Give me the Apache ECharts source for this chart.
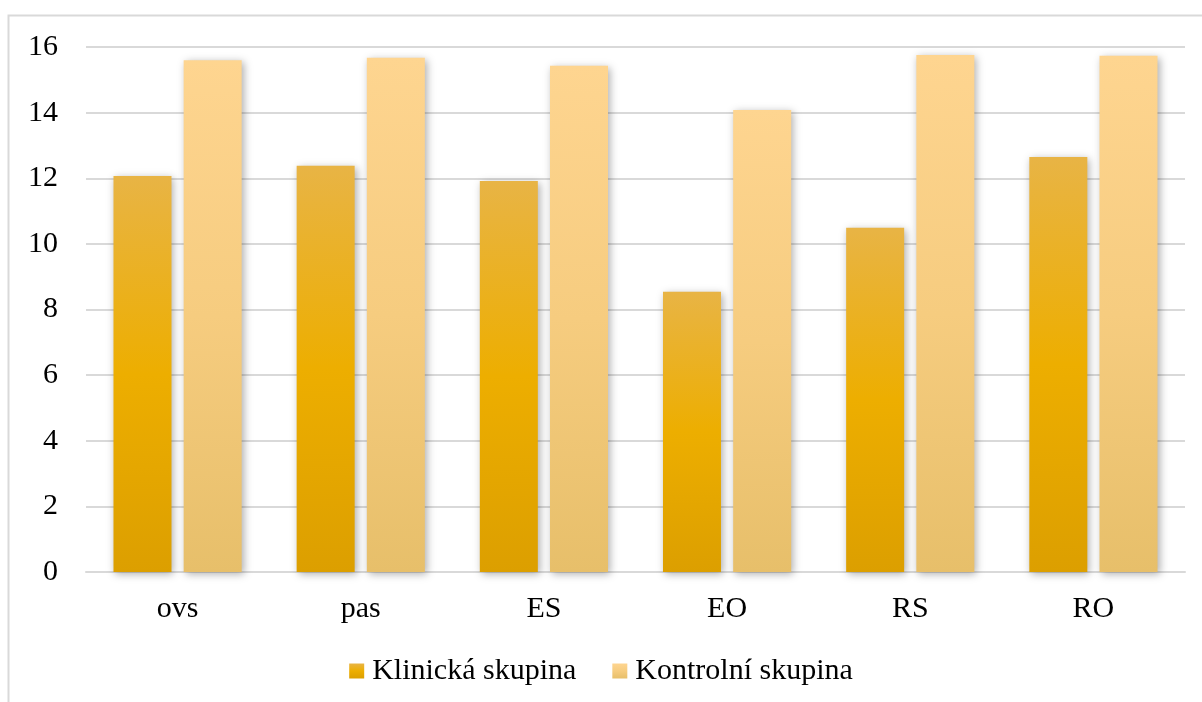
<!DOCTYPE html>
<html>
<head>
<meta charset="utf-8">
<script src="https://cdn.jsdelivr.net/npm/echarts@6/dist/echarts.min.js"></script>
<style>
html,body{margin:0;padding:0;background:#fff;}
#chart{width:1202px;height:702px;}
</style>
</head>
<body>
<div id="chart"></div>
<script>
const categories = ['ovs', 'pas', 'ES', 'EO', 'RS', 'RO'];
const seriesNames = ['Klinická skupina', 'Kontrolní skupina'];
const klinicka = [12.07, 12.38, 11.92, 8.54, 10.49, 12.65];
const kontrolni = [15.6, 15.67, 15.43, 14.08, 15.76, 15.73];
const yTicks = [0, 2, 4, 6, 8, 10, 12, 14, 16];

const font = '"Liberation Serif", "Times New Roman", serif';
const chart = echarts.init(document.getElementById('chart'));

function grad(stops) {
  return new echarts.graphic.LinearGradient(0, 0, 0, 1, stops);
}
const shadow = {shadowBlur: 8, shadowColor: 'rgba(0,0,0,0.32)', shadowOffsetX: 2, shadowOffsetY: 2};

chart.setOption({
  animation: false,
  graphic: [{
    type: 'rect', silent: true,
    shape: {x: 8.5, y: 15.5, width: 1300, height: 800},
    style: {fill: 'none', stroke: '#d9d9d9', lineWidth: 2}
  }],
  grid: {left: 86, right: 17, top: 47, bottom: 130, containLabel: false},
  legend: {
    data: seriesNames,
    left: 'center', top: 651,
    itemWidth: 15, itemHeight: 15, itemGap: 36,
    icon: 'rect',
    textStyle: {fontFamily: font, fontSize: 30, color: '#000', padding: [0, 0, 0, 3]}
  },
  xAxis: {
    type: 'category',
    data: categories,
    axisLine: {lineStyle: {color: '#d9d9d9', width: 2}},
    axisTick: {show: false},
    axisLabel: {fontFamily: font, fontSize: 30, color: '#000', margin: 22}
  },
  yAxis: {
    type: 'value',
    min: yTicks[0], max: yTicks[yTicks.length - 1], interval: 2,
    axisLine: {show: false},
    axisTick: {show: false},
    splitLine: {lineStyle: {color: '#d9d9d9', width: 2}},
    axisLabel: {fontFamily: font, fontSize: 30, color: '#000', margin: 28}
  },
  series: [
    {
      name: seriesNames[0], type: 'bar', data: klinicka,
      barWidth: 58, barGap: '21%',
      itemStyle: Object.assign({
        color: grad([{offset: 0, color: '#E8B445'}, {offset: 0.5, color: '#EDAE00'}, {offset: 1, color: '#DC9F00'}])
      }, shadow)
    },
    {
      name: seriesNames[1], type: 'bar', data: kontrolni,
      barWidth: 58, barGap: '21%',
      itemStyle: Object.assign({
        color: grad([{offset: 0, color: '#FED590'}, {offset: 0.5, color: '#F6CC7F'}, {offset: 1, color: '#E7BF6A'}])
      }, shadow)
    }
  ]
});
</script>
</body>
</html>
